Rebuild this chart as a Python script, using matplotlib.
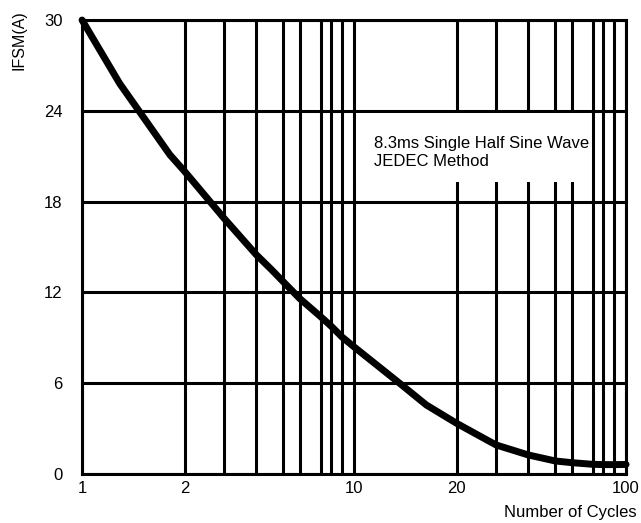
import numpy as np
import matplotlib.pyplot as plt
from matplotlib.patches import Rectangle

plt.rcParams["font.family"] = ["Liberation Sans", "DejaVu Sans"]

# surge curve
cycles = [1, 1.29, 1.81, 2, 3, 4, 4.54, 5, 6, 7, 8, 9, 10, 13.6, 16.3, 20, 27.3, 30,
          40, 50, 60, 70, 80, 90, 100]
ifsm = [30, 25.8, 21.1, 20.0, 16.9, 14.5, 13.5, 12.7, 11.6, 10.4, 9.75, 9.05, 8.4, 6.0,
        4.56, 3.35, 2.25, 1.92, 1.26, 0.86, 0.75, 0.64, 0.62, 0.62, 0.63]

y_ticks = [0, 6, 12, 18, 24, 30]
x_grid = [1, 2, 3, 4, 5, 6, 7, 8, 9, 10, 20, 30, 40, 50, 60, 70, 80, 90, 100]
x_labels = ["1", "2", "", "", "", "", "", "", "", "10", "20", "", "", "", "", "", "", "", "100"]

# the printed log paper is not a true log scale, map it
LOG_FRAC = np.log10(np.arange(1, 11))
PAPER_FRAC = np.array([0, 0.377, 0.522, 0.64, 0.74, 0.80, 0.877, 0.917, 0.956, 1.0])


def forward(x):
    lg = np.log10(np.clip(np.asarray(x, float), 1e-9, None))
    dec = np.floor(lg)
    return dec + np.interp(lg - dec, LOG_FRAC, PAPER_FRAC)


def inverse(p):
    p = np.asarray(p, float)
    dec = np.floor(p)
    return 10 ** (dec + np.interp(p - dec, PAPER_FRAC, LOG_FRAC))


def main():
    fig = plt.figure(figsize=(6.41, 5.23), dpi=100)
    ax = fig.add_axes([0.128, 0.0937, 0.8487, 0.868])
    ax.set_xscale("function", functions=(forward, inverse))
    ax.set_xlim(1, 100)
    ax.set_ylim(0, 30)

    ax.set_xticks(x_grid)
    ax.set_xticklabels(x_labels)
    ax.xaxis.set_minor_locator(plt.NullLocator())
    ax.set_yticks(y_ticks)
    ax.tick_params(axis="both", length=0, labelsize=12)
    ax.tick_params(axis="y", pad=14)
    ax.tick_params(axis="x", pad=5)
    ax.grid(True, color="black", linewidth=2.2)
    for sp in ax.spines.values():
        sp.set_linewidth(2.2)

    # white patch behind the note
    x0 = float(inverse(forward(10) + 0.007))
    x1 = float(inverse(forward(70) - 0.007))
    ax.add_patch(Rectangle((x0, 19.3), x1 - x0, 23.88 - 19.3,
                           facecolor="white", edgecolor="none", zorder=1.8))
    ax.text(float(inverse(1.074)), 21.25, "8.3ms Single Half Sine Wave\nJEDEC Method",
            fontsize=12, va="center", ha="left", linespacing=1.3, zorder=3)

    ax.plot(cycles, ifsm, color="black", linewidth=5, solid_capstyle="round",
            solid_joinstyle="round", clip_on=False, zorder=2)

    fig.text(19 / 641, 1 - 40 / 523, "IFSM(A)", rotation=90, fontsize=11.5,
             ha="center", va="center")
    fig.text(637 / 641, 1 - 513 / 523, "Number of Cycles", fontsize=12,
             ha="right", va="center")

    fig.savefig("out.png", dpi=100)


if __name__ == "__main__":
    main()
